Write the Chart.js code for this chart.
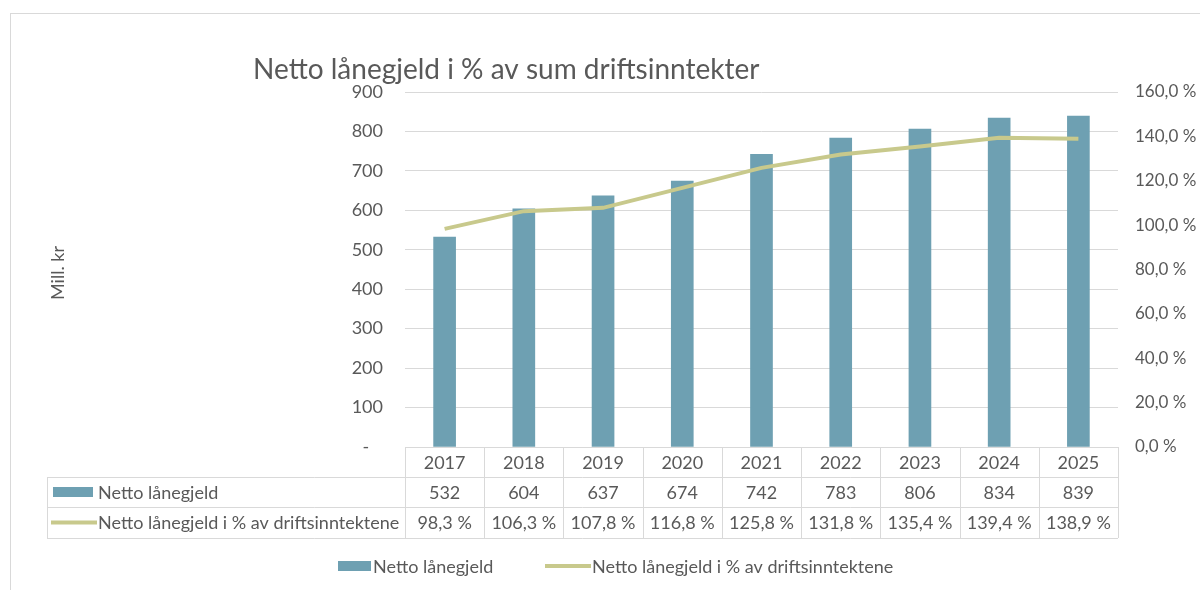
<!DOCTYPE html>
<html>
<head>
<meta charset="utf-8">
<script src="https://cdn.jsdelivr.net/npm/chart.js@4/dist/chart.umd.min.js"></script>
<style>
  html, body { margin: 0; padding: 0; background: #ffffff; }
  #wrap { width: 1200px; height: 590px; position: relative; }
</style>
</head>
<body>
<div id="wrap"><canvas id="gjeldChart" width="1200" height="590"></canvas></div>
<script>
// ===== data =====
const years = ["2017", "2018", "2019", "2020", "2021", "2022", "2023", "2024", "2025"];
const nettoGjeld = [532, 604, 637, 674, 742, 783, 806, 834, 839];
const gjeldProsent = [98.3, 106.3, 107.8, 116.8, 125.8, 131.8, 135.4, 139.4, 138.9];
const leftTicks = [0, 100, 200, 300, 400, 500, 600, 700, 800, 900];
const rightTicks = [0, 20, 40, 60, 80, 100, 120, 140, 160];

const titleText = "Netto lånegjeld i % av sum driftsinntekter";
const barLabel = "Netto lånegjeld";
const lineLabel = "Netto lånegjeld i % av driftsinntektene";
const yTitle = "Mill. kr";

// ===== style =====
const FONT = "Lato, 'Open Sans', sans-serif";
const TEXT = "#595959";
const GRID = "#d9d9d9";
const BAR_COLOR = "#6ea0b2";
const LINE_COLOR = "#c8c98c";

function pct(v) {
  return v.toFixed(1).replace(".", ",") + " %";
}

// tegner ramme, tittel, akse-tittel, datatabell og legende
const extrasPlugin = {
  id: "extras",
  beforeDraw(chart) {
    const ctx = chart.ctx;
    ctx.save();
    ctx.fillStyle = "#ffffff";
    ctx.fillRect(0, 0, chart.width, chart.height);
    ctx.strokeStyle = GRID;
    ctx.lineWidth = 1;
    ctx.strokeRect(10.5, 13.5, 1220, 620);
    ctx.restore();
  },
  afterDraw(chart) {
    const ctx = chart.ctx;
    const xs = chart.scales.x;
    const area = chart.chartArea;
    const half = (xs.getPixelForValue(1) - xs.getPixelForValue(0)) / 2;
    const tableLeft = 47;
    const rowTops = [area.bottom, area.bottom + 30, area.bottom + 60, area.bottom + 91];

    ctx.save();

    // tittel
    ctx.fillStyle = TEXT;
    ctx.font = "28px " + FONT;
    ctx.textAlign = "left";
    ctx.textBaseline = "middle";
    ctx.fillText(titleText, 253, 70);

    // y-akse tittel
    ctx.save();
    ctx.translate(58, 273);
    ctx.rotate(-Math.PI / 2);
    ctx.font = "18px " + FONT;
    ctx.textAlign = "center";
    ctx.fillText(yTitle, 0, 0);
    ctx.restore();

    // tabell-linjer
    ctx.strokeStyle = GRID;
    ctx.lineWidth = 1;
    ctx.beginPath();
    // horisontale
    ctx.moveTo(area.left, rowTops[0] + 0.5);
    ctx.lineTo(area.right, rowTops[0] + 0.5);
    for (let r = 1; r < rowTops.length; r++) {
      ctx.moveTo(tableLeft, rowTops[r] + 0.5);
      ctx.lineTo(area.right, rowTops[r] + 0.5);
    }
    // vertikale
    ctx.moveTo(tableLeft + 0.5, rowTops[1]);
    ctx.lineTo(tableLeft + 0.5, rowTops[3]);
    for (let i = 0; i < years.length; i++) {
      const xl = Math.round(xs.getPixelForValue(i) - half) + 0.5;
      ctx.moveTo(xl, rowTops[0]);
      ctx.lineTo(xl, rowTops[3]);
    }
    ctx.moveTo(Math.round(area.right) + 0.5, rowTops[0]);
    ctx.lineTo(Math.round(area.right) + 0.5, rowTops[3]);
    ctx.stroke();

    // tabell-tekst
    ctx.fillStyle = TEXT;
    ctx.font = "18px " + FONT;
    ctx.textAlign = "center";
    for (let i = 0; i < years.length; i++) {
      const cx = xs.getPixelForValue(i);
      ctx.fillText(years[i], cx, (rowTops[0] + rowTops[1]) / 2 + 1);
      ctx.fillText(String(nettoGjeld[i]), cx, (rowTops[1] + rowTops[2]) / 2 + 1);
      ctx.fillText(pct(gjeldProsent[i]), cx, (rowTops[2] + rowTops[3]) / 2 + 1);
    }

    // radoverskrifter med nøkler
    const y1 = (rowTops[1] + rowTops[2]) / 2;
    const y2 = (rowTops[2] + rowTops[3]) / 2;
    ctx.fillStyle = BAR_COLOR;
    ctx.fillRect(53, y1 - 5, 40, 10);
    ctx.strokeStyle = LINE_COLOR;
    ctx.lineWidth = 4;
    ctx.beginPath();
    ctx.moveTo(51, y2);
    ctx.lineTo(97, y2);
    ctx.stroke();
    ctx.fillStyle = TEXT;
    ctx.textAlign = "left";
    ctx.fillText(barLabel, 98, y1 + 1);
    ctx.fillText(lineLabel, 98, y2 + 1);

    // legende nederst
    const ly = 566;
    ctx.fillStyle = BAR_COLOR;
    ctx.fillRect(338, ly - 5, 33, 10);
    ctx.beginPath();
    ctx.moveTo(545, ly);
    ctx.lineTo(591, ly);
    ctx.stroke();
    ctx.fillStyle = TEXT;
    ctx.fillText(barLabel, 373, ly + 1);
    ctx.fillText(lineLabel, 592, ly + 1);

    ctx.restore();
  },
};

const ctx = document.getElementById("gjeldChart").getContext("2d");

new Chart(ctx, {
  data: {
    labels: years,
    datasets: [
      {
        type: "line",
        label: lineLabel,
        data: gjeldProsent,
        yAxisID: "yRight",
        borderColor: LINE_COLOR,
        backgroundColor: LINE_COLOR,
        borderWidth: 4,
        pointRadius: 0,
        tension: 0,
        order: 0,
      },
      {
        type: "bar",
        label: barLabel,
        data: nettoGjeld,
        yAxisID: "y",
        backgroundColor: BAR_COLOR,
        barThickness: 22,
        order: 1,
      },
    ],
  },
  options: {
    responsive: false,
    animation: false,
    layout: { padding: { left: 0, right: 0, top: 92, bottom: 143 } },
    plugins: {
      legend: { display: false },
      title: { display: false },
      tooltip: { enabled: false },
    },
    scales: {
      x: { display: false },
      y: {
        position: "left",
        min: 0,
        max: 900,
        afterBuildTicks(scale) {
          scale.ticks = leftTicks.map((v) => ({ value: v }));
        },
        afterFit(scale) {
          scale.width = 405;
        },
        grid: { color: GRID, drawTicks: false },
        border: { display: false },
        ticks: {
          padding: 22,
          color: TEXT,
          font: { family: FONT, size: 18 },
          callback: (v) => (v === 0 ? "-   " : v),
        },
      },
      yRight: {
        position: "right",
        min: 0,
        max: 160,
        afterBuildTicks(scale) {
          scale.ticks = rightTicks.map((v) => ({ value: v }));
        },
        afterFit(scale) {
          scale.width = 82;
        },
        grid: { drawOnChartArea: false, drawTicks: false },
        border: { display: false },
        ticks: {
          padding: 17,
          color: TEXT,
          font: { family: FONT, size: 17 },
          callback: (v) => pct(v),
        },
      },
    },
  },
  plugins: [extrasPlugin],
});
</script>
</body>
</html>
